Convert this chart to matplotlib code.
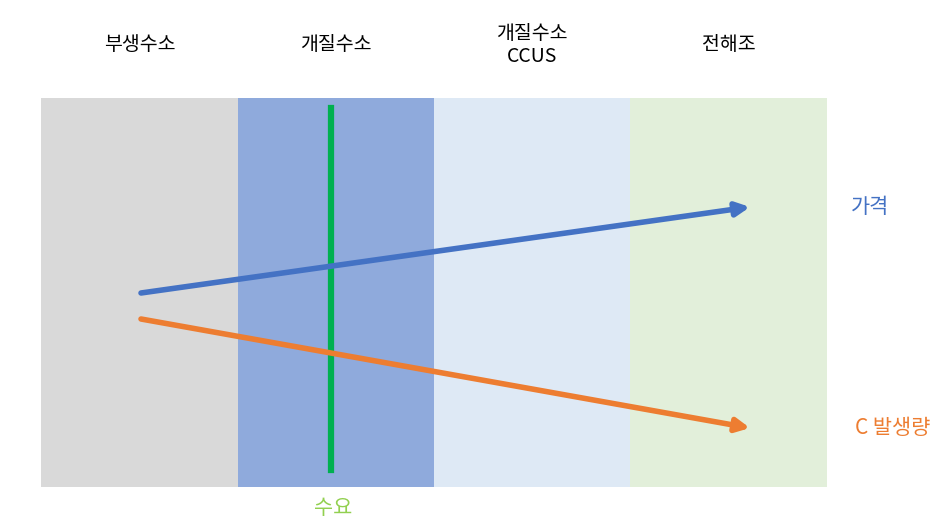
import matplotlib
matplotlib.use('Agg')
import matplotlib.pyplot as plt

plt.rcParams['font.family'] = ['Noto Sans CJK KR', 'DejaVu Sans']

# stage bands (pixel-like units of the diagram)
stages = ['부생수소', '개질수소', '개질수소\nCCUS', '전해조']
stageEdges = [41, 238, 434, 630, 827]
stageColors = ['#d9d9d9', '#8faadc', '#dee9f5', '#e2efda']
bandTop = 98
bandBottom = 487

# trend arrows: start and end points
priceLine = [(141, 293), (750, 207)]
carbonLine = [(141, 319), (750, 428)]
demandX = 331
demandSpan = [108, 470]

dpi = 100
fig = plt.figure(figsize=(953/dpi, 524/dpi), dpi=dpi)
ax = fig.add_axes([0, 0, 1, 1])
ax.set_xlim(0, 953)
ax.set_ylim(524, 0)
ax.axis('off')

for i, name in enumerate(stages):
    left = stageEdges[i]
    right = stageEdges[i+1]
    ax.fill_between([left, right], bandTop, bandBottom, color=stageColors[i], lw=0)
    ax.text((left+right)/2, 45, name, ha='center', va='center', fontsize=14, linespacing=1.1)

ax.plot([demandX, demandX], demandSpan, color='#00b050', lw=4.5)

for pts, color in [(priceLine, '#4472c4'), (carbonLine, '#ed7d31')]:
    ax.annotate('', xy=pts[1], xytext=pts[0],
                arrowprops=dict(arrowstyle='-|>,head_length=0.8,head_width=0.4',
                                color=color, lw=4, shrinkA=0, shrinkB=0))

ax.text(870, 207, '가격', color='#4472c4', fontsize=15, ha='center', va='center')
ax.text(893, 428, 'C 발생량', color='#ed7d31', fontsize=15, ha='center', va='center')
ax.text(333, 508, '수요', color='#92d050', fontsize=15, ha='center', va='center')

plt.savefig('out.png', dpi=dpi)
